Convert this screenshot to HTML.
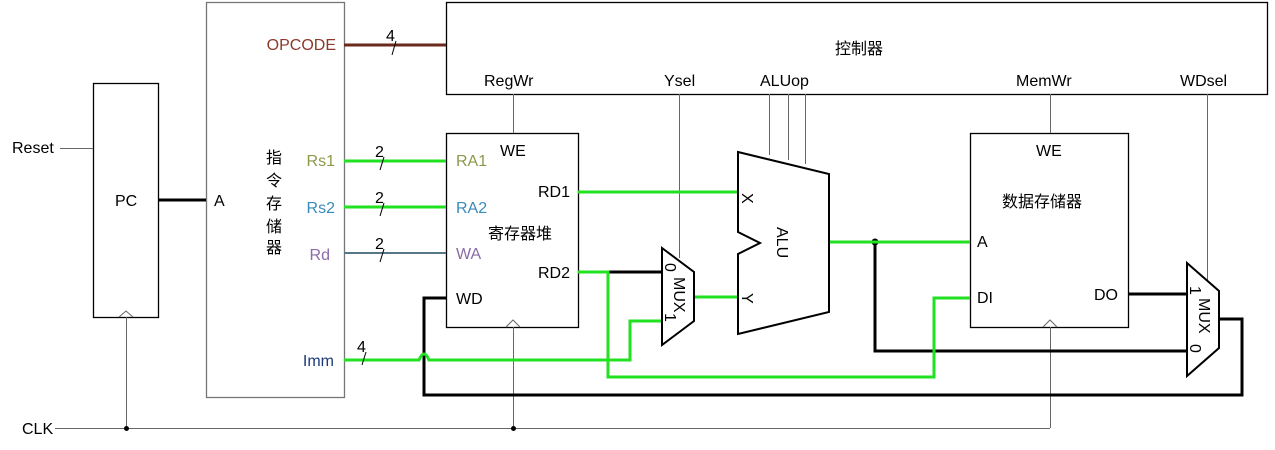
<!DOCTYPE html>
<html><head><meta charset="utf-8"><style>
html,body{margin:0;padding:0;background:#fff}
svg{display:block}
text{font-family:"Liberation Sans","Noto Sans CJK SC",sans-serif;font-size:16px}
</style></head><body>
<svg width="1275" height="450" viewBox="0 0 1275 450" xmlns="http://www.w3.org/2000/svg">
<g fill="none">
<rect x="446.5" y="2.5" width="821" height="92" stroke="#000" stroke-width="1.3" fill="#fff"/>
<rect x="206.5" y="2.5" width="138" height="395" stroke="#777" stroke-width="1.3" fill="#fff"/>
<rect x="93.5" y="83.5" width="65" height="234" stroke="#000" stroke-width="1.3" fill="#fff"/>
<rect x="446.5" y="133.5" width="132" height="194" stroke="#000" stroke-width="1.3" fill="#fff"/>
<rect x="970.5" y="133.5" width="158" height="194" stroke="#000" stroke-width="1.3" fill="#fff"/>
<polyline points="119,317 126,311 133,317" stroke="#666"/>
<polyline points="506,327 513,320 520,327" stroke="#666"/>
<polyline points="1043,327 1050,320 1057,327" stroke="#666"/>
<g stroke="#666" stroke-width="1">
<line x1="55" y1="428.5" x2="1050" y2="428.5"/>
<line x1="126.5" y1="317" x2="126.5" y2="428"/>
<line x1="513.5" y1="327" x2="513.5" y2="428"/>
<line x1="1050.5" y1="327" x2="1050.5" y2="428"/>
<line x1="60" y1="148.5" x2="93" y2="148.5"/>
<line x1="513.5" y1="94" x2="513.5" y2="133"/>
<line x1="679.5" y1="94" x2="679.5" y2="258"/>
<line x1="769.5" y1="94" x2="769.5" y2="155"/>
<line x1="788.5" y1="94" x2="788.5" y2="160"/>
<line x1="805.5" y1="94" x2="805.5" y2="164"/>
<line x1="1050.5" y1="94" x2="1050.5" y2="133"/>
<line x1="1207.5" y1="94" x2="1207.5" y2="283"/>
</g>
<circle cx="126.5" cy="428.5" r="2.5" fill="#000"/>
<circle cx="513.5" cy="428.5" r="2.5" fill="#000"/>
<g stroke="#000" stroke-width="3">
<line x1="158" y1="200" x2="206" y2="200"/>
<polyline points="608,272 662,272"/>
<polyline points="446,298 424,298 424,395 1242,395 1242,319 1219,319"/>
<polyline points="875,242 875,351 1187,351"/>
<line x1="1128" y1="294" x2="1187" y2="294"/>
</g>
<circle cx="875" cy="242" r="3.5" fill="#000"/>
<line x1="344" y1="45" x2="446" y2="45" stroke="#6b2a1e" stroke-width="3"/>
<g stroke="#22e022" stroke-width="3">
<line x1="344" y1="161" x2="446" y2="161"/>
<line x1="344" y1="207" x2="446" y2="207"/>
<line x1="578" y1="192" x2="738" y2="192"/>
<polyline points="578,272 608,272 608,377 934,377 934,298 970,298"/>
<path d="M344,360 H419 Q424,348 429,360 H630 V321 H662"/>
<line x1="694" y1="297" x2="738" y2="297"/>
<line x1="829" y1="242" x2="970" y2="242"/>
</g>
<line x1="344" y1="253" x2="446" y2="253" stroke="#557788" stroke-width="2"/>
<g stroke="#000" stroke-width="1">
<line x1="396" y1="41" x2="392" y2="55"/>
<line x1="384" y1="157" x2="380" y2="170"/>
<line x1="384" y1="203" x2="380" y2="216"/>
<line x1="384" y1="249" x2="380" y2="262"/>
<line x1="366" y1="352" x2="362" y2="365"/>
</g>
<polygon points="738,152 829,174 829,312 738,334 738,254 760,243 738,232" stroke="#000" stroke-width="2" fill="#fff"/>
<polygon points="662,248 694,272 694,321 662,345" stroke="#000" stroke-width="2" fill="#fff"/>
<polygon points="1187,263 1219,291 1219,348 1187,376" stroke="#000" stroke-width="2" fill="#fff"/>
</g>
<g fill="#000">
<text x="859" y="54" text-anchor="middle">控制器</text>
<text x="484" y="86">RegWr</text>
<text x="664" y="86">Ysel</text>
<text x="760" y="86">ALUop</text>
<text x="1016" y="86">MemWr</text>
<text x="1180" y="86">WDsel</text>
<text x="336" y="50" fill="#8b3a2a" text-anchor="end">OPCODE</text>
<text x="386" y="41">4</text>
<text x="375" y="157">2</text>
<text x="375" y="203">2</text>
<text x="375" y="249">2</text>
<text x="357" y="352">4</text>
<text x="12" y="153">Reset</text>
<text x="22" y="434">CLK</text>
<text x="115" y="206">PC</text>
<text x="214" y="206">A</text>
<text x="266" y="163">指</text>
<text x="266" y="186">令</text>
<text x="266" y="209">存</text>
<text x="266" y="232">储</text>
<text x="266" y="253">器</text>
<text x="335" y="166" fill="#8a9a4a" text-anchor="end">Rs1</text>
<text x="335" y="213" fill="#3a8ab8" text-anchor="end">Rs2</text>
<text x="330" y="260" fill="#8a6aa8" text-anchor="end">Rd</text>
<text x="334" y="366" fill="#1a3a7a" text-anchor="end">Imm</text>
<text x="456" y="166" fill="#8a9a4a">RA1</text>
<text x="456" y="213" fill="#3a8ab8">RA2</text>
<text x="456" y="259" fill="#8a6aa8">WA</text>
<text x="456" y="304">WD</text>
<text x="500" y="156">WE</text>
<text x="570" y="197" text-anchor="end">RD1</text>
<text x="570" y="278" text-anchor="end">RD2</text>
<text x="488" y="239">寄存器堆</text>
<text x="1036" y="156">WE</text>
<text x="1002" y="207">数据存储器</text>
<text x="977" y="247">A</text>
<text x="977" y="303">DI</text>
<text x="1118" y="300" text-anchor="end">DO</text>
<text x="0" y="0" transform="translate(742,193) rotate(90)">X</text>
<text x="0" y="0" transform="translate(742,293) rotate(90)">Y</text>
<text x="0" y="0" font-size="18" transform="translate(777,227) rotate(90)">ALU</text>
<text x="0" y="0" font-size="18" transform="translate(674,277) rotate(90)">MUX</text>
<text x="0" y="0" font-size="9" transform="translate(665,263) rotate(90)">0</text>
<text x="0" y="0" font-size="9" transform="translate(665,313) rotate(90)">1</text>
<text x="0" y="0" font-size="18" transform="translate(1199,298) rotate(90)">MUX</text>
<text x="0" y="0" font-size="9" transform="translate(1190,286) rotate(90)">1</text>
<text x="0" y="0" font-size="9" transform="translate(1190,344) rotate(90)">0</text>
</g>
</svg>
</body></html>
